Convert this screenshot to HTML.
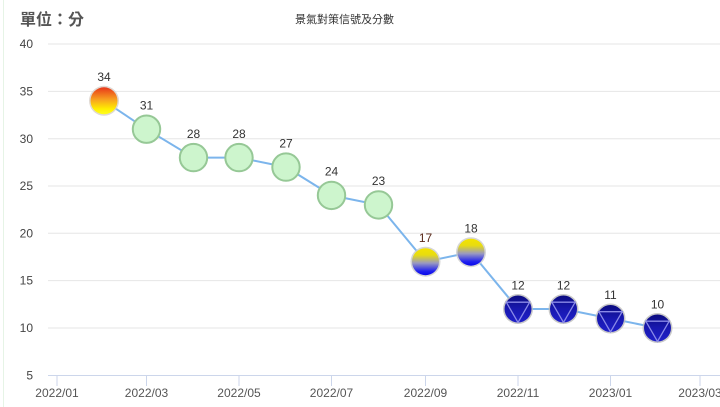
<!DOCTYPE html>
<html><head><meta charset="utf-8"><style>
html,body{margin:0;padding:0;background:#fff;}
svg{display:block;font-family:"Liberation Sans","Noto Sans CJK TC",sans-serif;}
</style></head><body>
<svg width="720" height="407" viewBox="0 0 720 407" xmlns="http://www.w3.org/2000/svg">
<defs>
<linearGradient id="gRed" x1="0" y1="0" x2="0" y2="1">
<stop offset="0" stop-color="#e8361a"/><stop offset="0.45" stop-color="#f7a020"/><stop offset="0.8" stop-color="#ffee00"/><stop offset="1" stop-color="#ffff20"/>
</linearGradient>
<linearGradient id="gYB" x1="0" y1="0" x2="0" y2="1">
<stop offset="0" stop-color="#f4e400"/><stop offset="0.25" stop-color="#e8dc10"/><stop offset="0.55" stop-color="#9a9ac0"/><stop offset="0.85" stop-color="#2020f0"/><stop offset="1" stop-color="#0808e8"/>
</linearGradient>
<linearGradient id="gB" x1="0" y1="0" x2="0" y2="1">
<stop offset="0" stop-color="#0c0c80"/><stop offset="0.5" stop-color="#1818b0"/><stop offset="1" stop-color="#2020c8"/>
</linearGradient>
</defs>
<rect width="720" height="407" fill="#fff"/>
<line x1="3.5" y1="0" x2="3.5" y2="407" stroke="#e6f4e6" stroke-width="1"/>
<text x="20" y="25" font-size="16" fill="#555" font-weight="600">單位：分</text>
<text x="295" y="23" font-size="11" fill="#333">景氣對策信號及分數</text>
<g stroke="#e6e6e6" stroke-width="1">
<line x1="48" y1="44" x2="720" y2="44"/>
<line x1="48" y1="91.4" x2="720" y2="91.4"/>
<line x1="48" y1="138.7" x2="720" y2="138.7"/>
<line x1="48" y1="186" x2="720" y2="186"/>
<line x1="48" y1="233.3" x2="720" y2="233.3"/>
<line x1="48" y1="280.6" x2="720" y2="280.6"/>
<line x1="48" y1="328" x2="720" y2="328"/>
</g>
<line x1="48" y1="375.5" x2="720" y2="375.5" stroke="#ccd6eb" stroke-width="1"/>
<g stroke="#ccd6eb" stroke-width="1">
<line x1="57" y1="375" x2="57" y2="386"/>
<line x1="146.5" y1="375" x2="146.5" y2="386"/>
<line x1="239" y1="375" x2="239" y2="386"/>
<line x1="331.5" y1="375" x2="331.5" y2="386"/>
<line x1="425.5" y1="375" x2="425.5" y2="386"/>
<line x1="518" y1="375" x2="518" y2="386"/>
<line x1="610.5" y1="375" x2="610.5" y2="386"/>
<line x1="700" y1="375" x2="700" y2="386"/>
</g>
<g font-size="12" fill="#444" text-anchor="end">
<text x="33" y="48">40</text>
<text x="33" y="95.5">35</text>
<text x="33" y="143">30</text>
<text x="33" y="190">25</text>
<text x="33" y="237.5">20</text>
<text x="33" y="284.5">15</text>
<text x="33" y="332">10</text>
<text x="33" y="379.5">5</text>
</g>
<g font-size="12" fill="#555" text-anchor="middle">
<text x="57" y="397">2022/01</text>
<text x="146.5" y="397">2022/03</text>
<text x="239" y="397">2022/05</text>
<text x="331.5" y="397">2022/07</text>
<text x="425.5" y="397">2022/09</text>
<text x="518" y="397">2022/11</text>
<text x="610.5" y="397">2023/01</text>
<text x="700" y="397">2023/03</text>
</g>
<polyline fill="none" stroke="#7cb5ec" stroke-width="2" points="104,100.8 146.5,129.2 193.5,157.6 239,157.6 286,167.1 331.5,195.4 378.5,204.9 425.5,261.7 471,252.2 518,309 563.5,309 610.5,318.5 657.5,328"/>
<g>
<circle cx="104" cy="100.8" r="15" fill="#d8d0c8" opacity="0.8"/>
<circle cx="104" cy="100.8" r="13.5" fill="url(#gRed)"/>
</g>
<g fill="#cdf5cd" stroke="#96c896" stroke-width="2">
<circle cx="146.5" cy="129.2" r="13.7"/>
<circle cx="193.5" cy="157.6" r="13.7"/>
<circle cx="239" cy="157.6" r="13.7"/>
<circle cx="286" cy="167.1" r="13.7"/>
<circle cx="331.5" cy="195.4" r="13.7"/>
<circle cx="378.5" cy="204.9" r="13.7"/>
</g>
<g>
<circle cx="425.5" cy="261.7" r="15" fill="#cccccc" opacity="0.8"/>
<circle cx="425.5" cy="261.7" r="13.5" fill="url(#gYB)"/>
<circle cx="471" cy="252.2" r="15" fill="#cccccc" opacity="0.8"/>
<circle cx="471" cy="252.2" r="13.5" fill="url(#gYB)"/>
</g>
<g>
<circle cx="518" cy="309" r="15" fill="#bbbbbb" opacity="0.8"/>
<circle cx="518" cy="309" r="13.5" fill="url(#gB)"/>
<polygon points="506.3,302.2 529.7,302.2 518,322.5" fill="none" stroke="#8a8ae8" stroke-width="1.3"/>
<circle cx="563.5" cy="309" r="15" fill="#bbbbbb" opacity="0.8"/>
<circle cx="563.5" cy="309" r="13.5" fill="url(#gB)"/>
<polygon points="551.8,302.2 575.2,302.2 563.5,322.5" fill="none" stroke="#8a8ae8" stroke-width="1.3"/>
<circle cx="610.5" cy="318.5" r="15" fill="#bbbbbb" opacity="0.8"/>
<circle cx="610.5" cy="318.5" r="13.5" fill="url(#gB)"/>
<polygon points="598.8,311.7 622.2,311.7 610.5,332" fill="none" stroke="#8a8ae8" stroke-width="1.3"/>
<circle cx="657.5" cy="328" r="15" fill="#bbbbbb" opacity="0.8"/>
<circle cx="657.5" cy="328" r="13.5" fill="url(#gB)"/>
<polygon points="645.8,321.2 669.2,321.2 657.5,341.5" fill="none" stroke="#8a8ae8" stroke-width="1.3"/>
</g>
<g font-size="12" fill="#333" text-anchor="middle">
<text x="104" y="81">34</text>
<text x="146.5" y="109.5">31</text>
<text x="193.5" y="138">28</text>
<text x="239" y="138">28</text>
<text x="286" y="147.5">27</text>
<text x="331.5" y="175.5">24</text>
<text x="378.5" y="185">23</text>
<text x="425.5" y="242" fill="#5a2a1a">17</text>
<text x="471" y="232.5">18</text>
<text x="518" y="289.5">12</text>
<text x="563.5" y="289.5">12</text>
<text x="610.5" y="299">11</text>
<text x="657.5" y="308.5">10</text>
</g>
</svg>
</body></html>
